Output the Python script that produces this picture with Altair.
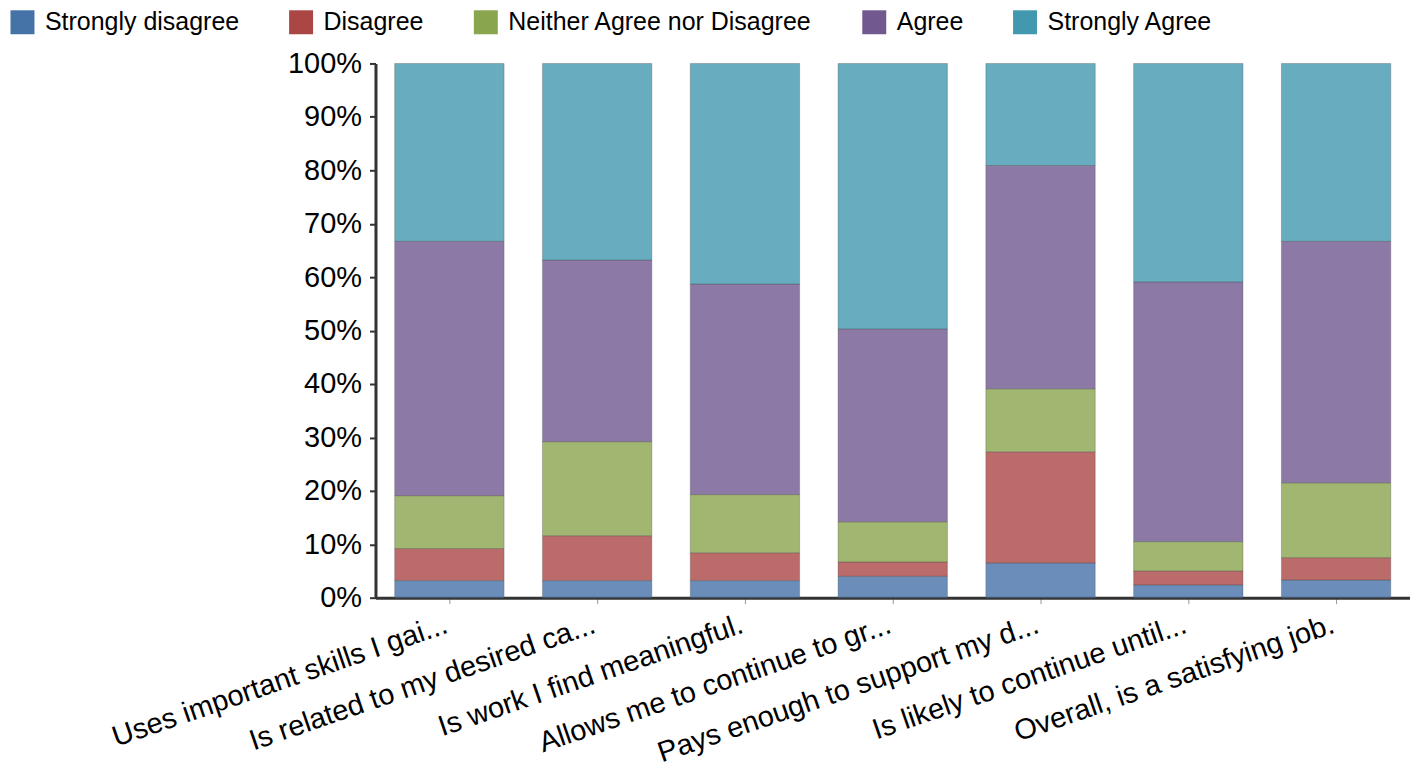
import altair as alt
import pandas as pd

categories = [
    "Uses important skills I gai...",
    "Is related to my desired ca...",
    "Is work I find meaningful.",
    "Allows me to continue to gr...",
    "Pays enough to support my d...",
    "Is likely to continue until...",
    "Overall, is a satisfying job.",
]
series_names = ["Strongly disagree", "Disagree", "Neither Agree nor Disagree", "Agree", "Strongly Agree"]
strongly_disagree = [3.2, 3.2, 3.2, 4.0, 6.5, 2.4, 3.3]
disagree = [6.0, 8.4, 5.2, 2.7, 20.8, 2.6, 4.2]
neither = [9.9, 17.6, 10.9, 7.5, 11.8, 5.5, 14.0]
agree = [47.6, 34.0, 39.4, 36.1, 41.8, 48.6, 45.2]
strongly_agree = [33.3, 36.8, 41.3, 49.7, 19.1, 40.9, 33.3]
colors = ["#4572A7", "#AA4643", "#89A54E", "#71588F", "#4198AF"]

series_values = [strongly_disagree, disagree, neither, agree, strongly_agree]
rows = []
for si, (name, vals) in enumerate(zip(series_names, series_values)):
    for ci, (cat, v) in enumerate(zip(categories, vals)):
        rows.append({"category": cat, "series": name, "value": v, "order": si})
df = pd.DataFrame(rows)

FONT = "Liberation Sans"

chart = alt.Chart(df).mark_bar(
    fillOpacity=0.8, stroke="#555555", strokeOpacity=0.35, strokeWidth=1
).encode(
    x=alt.X("category:N", sort=categories, title=None,
            scale=alt.Scale(paddingInner=0.26, paddingOuter=0.13),
            axis=alt.Axis(labelAngle=-19, labelAlign="right", labelBaseline="alphabetic",
                          labelFontSize=29, labelFont=FONT, labelColor="#000000",
                          labelLimit=0, labelPadding=28, tickSize=6, tickColor="#999999",
                          tickWidth=1, domainColor="#333333", domainWidth=3)),
    y=alt.Y("value:Q", stack="normalize", title=None,
            scale=alt.Scale(domain=[0, 1]),
            axis=alt.Axis(values=[i / 10 for i in range(11)], format=".0%", grid=False,
                          labelFontSize=29, labelFont=FONT, labelColor="#000000",
                          labelPadding=8, tickSize=6, tickColor="#333333", tickWidth=2,
                          domainColor="#333333", domainWidth=3)),
    color=alt.Color("series:N", sort=series_names,
                    scale=alt.Scale(domain=series_names, range=colors),
                    legend=alt.Legend(title=None, orient="none", legendX=-366, legendY=-54,
                                      direction="horizontal", columns=5,
                                      symbolType="square", symbolSize=576, symbolStrokeWidth=0,
                                      symbolOpacity=1, labelFontSize=25, labelFont=FONT,
                                      labelColor="#000000", labelOffset=10, columnPadding=49,
                                      labelLimit=1000, padding=0)),
    order=alt.Order("order:Q", sort="ascending"),
).properties(
    width=1036, height=535,
    autosize="none",
    padding={"left": 368, "top": 55, "right": 0, "bottom": 172},
).configure_view(stroke=None)

chart.save("out.html", embed_options={"renderer": "svg", "actions": False})
